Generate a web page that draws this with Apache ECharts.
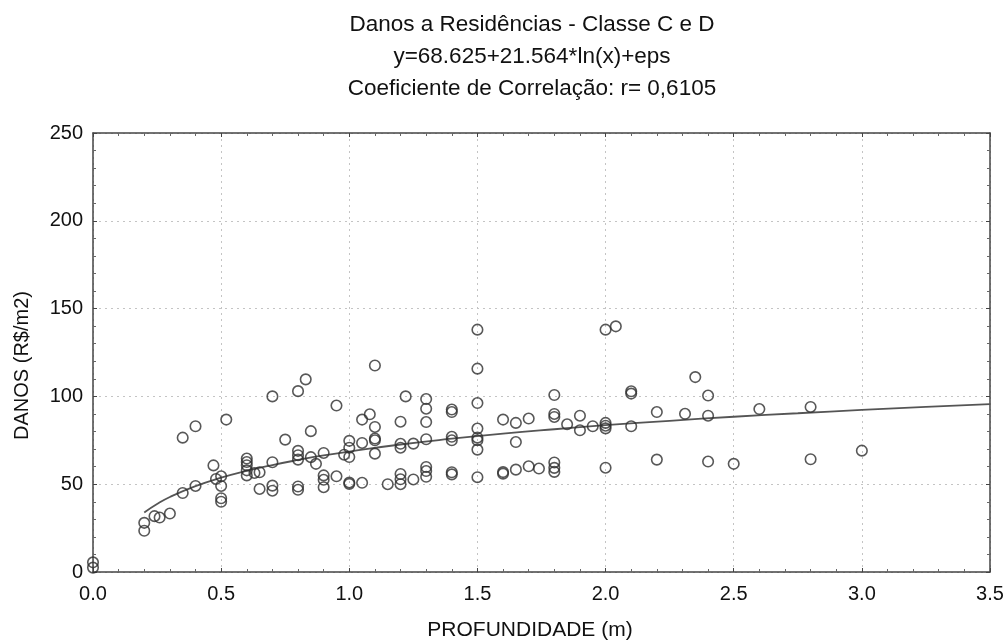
<!DOCTYPE html>
<html>
<head>
<meta charset="utf-8">
<script src="https://cdn.jsdelivr.net/npm/echarts@6/dist/echarts.min.js"></script>
<style>
html,body{margin:0;padding:0;background:#fff}
#chart{width:1008px;height:642px}
</style>
</head>
<body>
<div id="chart"></div>
<script>
// ---- Text ----
const titleLines = ['Danos a Residências - Classe C e D', 'y=68.625+21.564*ln(x)+eps', 'Coeficiente de Correlação: r= 0,6105'];
const xName = 'PROFUNDIDADE (m)';
const yName = 'DANOS (R$/m2)';

// ---- Axis ticks ----
const xTicks = [0, 0.5, 1.0, 1.5, 2.0, 2.5, 3.0, 3.5];
const yTicks = [0, 50, 100, 150, 200, 250];

// ---- Observed points (depth m, damage R$/m2) ----
const depth = [
  0, 0,
  0.2, 0.2, 0.24, 0.26, 0.3,
  0.35, 0.35, 0.4, 0.4,
  0.47, 0.48, 0.5, 0.5, 0.5, 0.5, 0.52,
  0.6, 0.6, 0.6, 0.6, 0.6, 0.63, 0.65, 0.65,
  0.7, 0.7, 0.7, 0.7, 0.75,
  0.8, 0.83, 0.8, 0.8, 0.8, 0.8, 0.8,
  0.85, 0.85, 0.87,
  0.9, 0.9, 0.9, 0.9, 0.95, 0.95, 0.98,
  1.0, 1.0, 1.0, 1.0, 1.0,
  1.05, 1.05, 1.05, 1.08,
  1.1, 1.1, 1.1, 1.1, 1.1, 1.15,
  1.2, 1.2, 1.2, 1.2, 1.2, 1.2, 1.22, 1.25, 1.25,
  1.3, 1.3, 1.3, 1.3, 1.3, 1.3, 1.3,
  1.4, 1.4, 1.4, 1.4, 1.4, 1.4,
  1.5, 1.5, 1.5, 1.5, 1.5, 1.5, 1.5, 1.5,
  1.6, 1.6, 1.6, 1.65, 1.65, 1.65, 1.7, 1.7, 1.74,
  1.8, 1.8, 1.8, 1.8, 1.8, 1.8, 1.85, 1.9, 1.9, 1.95,
  2.0, 2.0, 2.0, 2.0, 2.0, 2.04,
  2.1, 2.1, 2.1, 2.2, 2.2, 2.31, 2.35,
  2.4, 2.4, 2.4, 2.5, 2.6, 2.8, 2.8, 3.0
];
const damage = [
  5.5, 2.5,
  28, 23.5, 31.8, 31, 33.3,
  45, 76.5, 83, 49,
  60.7, 53, 54.5, 49, 42, 40, 86.8,
  64.6, 62.6, 60.8, 57.9, 55, 56.4, 56.8, 47.3,
  100, 62.5, 49.2, 46.3, 75.4,
  103, 109.7, 69, 66.5, 64, 48.7, 46.8,
  80.2, 65.4, 61.6,
  67.8, 55, 52.5, 48.3, 94.8, 54.5, 66.8,
  74.7, 70.8, 65.5, 51, 50.2,
  86.8, 73.5, 50.8, 89.8,
  117.6, 82.6, 76, 75, 67.4, 50,
  85.6, 73, 70.8, 55.8, 52.8, 50, 100, 73.1, 52.7,
  98.5, 93, 85.4, 75.6, 59.8, 57.5, 54.2,
  92.5, 91.1, 77, 75, 56.8, 55.6,
  138, 115.8, 96.2, 81.7, 76.5, 75, 69.7, 54,
  86.8, 56.9, 56, 84.9, 74, 58.3, 87.4, 60.2, 58.9,
  100.8, 90, 88.3, 62.4, 59.3, 57, 84.1, 89, 80.7, 83,
  138, 84.9, 83.3, 81.8, 59.4, 139.9,
  102.9, 101.6, 83, 91.1, 64, 90.1, 111,
  100.5, 89, 62.9, 61.6, 92.8, 94, 64.2, 69.1
];

// ---- Fitted curve ----
const fitX = [0.2, 0.25, 0.3, 0.4, 0.5, 0.6, 0.7, 0.8, 0.9, 1.0, 1.2, 1.4, 1.6, 1.8, 2.0, 2.25, 2.5, 2.75, 3.0, 3.25, 3.5];
const fitY = [33.9, 38.7, 42.7, 48.9, 53.7, 57.6, 60.9, 63.8, 66.4, 68.6, 72.6, 75.9, 78.8, 81.3, 83.6, 86.1, 88.4, 90.4, 92.3, 94.0, 95.6];

const FONT = 'Liberation Sans, Arial, sans-serif';
const frameColor = '#444';

const chart = echarts.init(document.getElementById('chart'), null, {renderer: 'canvas'});

function xAxisBase(pos) {
  return {
    type: 'value', position: pos,
    min: xTicks[0], max: xTicks[xTicks.length - 1], interval: xTicks[1] - xTicks[0],
    axisLine: {show: true, onZero: false, lineStyle: {color: frameColor, width: 1.5}},
    axisTick: {show: true, inside: true, length: 4, lineStyle: {color: frameColor, width: 1}},
    minorTick: {show: true, splitNumber: 5, length: 3, lineStyle: {color: '#666', width: 1}},
    splitLine: {show: false},
    axisLabel: {show: false}
  };
}
function yAxisBase(pos) {
  return {
    type: 'value', position: pos,
    min: yTicks[0], max: yTicks[yTicks.length - 1], interval: yTicks[1] - yTicks[0],
    axisLine: {show: true, onZero: false, lineStyle: {color: frameColor, width: 1.5}},
    axisTick: {show: true, inside: true, length: 4, lineStyle: {color: frameColor, width: 1}},
    minorTick: {show: true, splitNumber: 5, length: 3, lineStyle: {color: '#666', width: 1}},
    splitLine: {show: false},
    axisLabel: {show: false}
  };
}

const xBottom = Object.assign(xAxisBase('bottom'), {
  axisLabel: {show: true, formatter: v => v.toFixed(1), fontSize: 20, color: '#111', margin: 12, fontFamily: FONT},
  splitLine: {show: true, lineStyle: {type: [2, 4], color: '#c4c4c4', width: 1}},
  name: xName, nameLocation: 'middle', nameGap: 48,
  nameTextStyle: {fontSize: 21, color: '#111', fontFamily: FONT, padding: [0, 23, 0, 0]}
});
const yLeft = Object.assign(yAxisBase('left'), {
  axisLabel: {show: true, fontSize: 20, color: '#111', margin: 10, fontFamily: FONT},
  splitLine: {show: true, lineStyle: {type: [2, 4], color: '#c4c4c4', width: 1}},
  name: yName, nameLocation: 'middle', nameGap: 61,
  nameTextStyle: {fontSize: 20, color: '#111', fontFamily: FONT, padding: [0, 26, 0, 0]}
});

chart.setOption({
  animation: false,
  backgroundColor: '#fff',
  title: {
    text: titleLines.join('\n'),
    left: 527, top: 4, textAlign: 'center', padding: 5,
    textStyle: {fontSize: 22.5, fontWeight: 'normal', color: '#111', fontFamily: FONT, lineHeight: 32}
  },
  grid: {left: 93, right: 18, top: 133, bottom: 70, containLabel: false, outerBoundsMode: 'none'},
  xAxis: [xBottom, xAxisBase('top')],
  yAxis: [yLeft, yAxisBase('right')],
  series: [
    {
      type: 'line', xAxisIndex: 0, yAxisIndex: 0,
      data: fitX.map((x, i) => [x, fitY[i]]),
      smooth: true, showSymbol: false, symbol: 'none',
      lineStyle: {color: '#555', width: 1.8},
      silent: true, z: 2
    },
    {
      type: 'scatter', xAxisIndex: 0, yAxisIndex: 0,
      data: depth.map((x, i) => [x, damage[i]]),
      symbol: 'circle', symbolSize: 10.5, clip: false,
      itemStyle: {color: 'rgba(255,255,255,0)', borderColor: '#2e2e2e', borderWidth: 1.6},
      emphasis: {disabled: true},
      silent: true, z: 3
    }
  ]
});
</script>
</body>
</html>
